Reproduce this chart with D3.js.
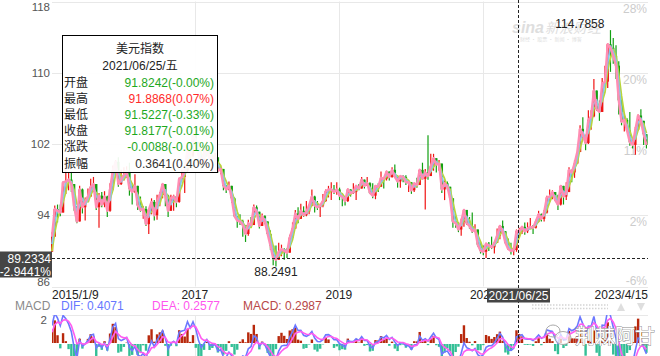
<!DOCTYPE html>
<html><head><meta charset="utf-8">
<script src="https://cdn.jsdelivr.net/npm/d3@7/dist/d3.min.js"></script>
<style>
html,body{margin:0;padding:0;background:#fff;}
svg{display:block;font-family:"Liberation Sans",Arial,"Noto Sans CJK SC",sans-serif;}
</style></head><body>
<svg id="c" width="660" height="356"></svg>
<script>
// ---------------- data ----------------
const startDate = "2015-01-09";
const endDate = "2023-04-15";
const stepDays = 14; // one candle per two weeks
const warmupCloses = [87.3, 87.6, 88.4, 88.4, 89.9];
const closes = [
91.6,94.7,94.5,94.3,97.7,97.8,98.0,97.5,95.0,93.3,96.9,94.9,95.5,96.1,97.2,97.5,94.9,96.2,95.2,96.1,94.5,96.9,99.0,100.0,97.5,98.0,
98.5,99.0,97.0,96.6,97.3,95.1,94.6,94.7,93.0,94.6,95.5,94.0,95.5,96.3,97.5,96.2,94.5,95.9,96.1,95.5,98.1,98.3,99.0,101.4,100.7,103.0,
102.2,100.7,99.9,100.9,101.5,100.3,100.4,100.5,99.0,99.2,97.3,96.9,97.3,95.9,93.9,93.4,93.3,92.9,91.9,93.1,92.9,94.9,94.4,92.8,93.9,93.3,
91.9,90.6,89.2,89.0,89.9,90.2,90.0,89.8,91.5,92.5,94.2,93.6,94.5,94.0,94.4,95.1,96.1,95.1,94.9,95.1,95.6,96.7,96.9,96.9,96.6,96.9,
96.2,96.1,95.6,96.9,96.5,96.6,97.3,97.0,98.0,97.3,97.6,96.5,96.2,97.3,97.2,98.2,98.1,98.9,98.3,99.1,98.3,97.8,98.4,98.3,97.7,97.7,
96.8,97.6,97.4,99.1,98.1,98.8,98.4,99.5,100.4,99.7,99.8,96.9,97.6,97.2,95.9,93.3,93.1,92.4,93.3,94.6,93.1,92.8,92.2,92.4,90.7,90.0,
89.9,90.8,90.6,90.4,90.9,91.7,92.8,92.2,90.9,90.2,90.0,90.1,92.2,92.2,92.7,92.2,92.5,92.7,92.6,93.3,94.1,93.6,94.3,96.0,96.1,96.6,
95.7,95.2,97.3,96.1,96.6,99.1,98.8,99.8,101.1,103.7,103.0,102.1,104.7,105.1,108.0,105.9,105.6,108.8,109.0,113.2,112.8,111.9,110.8,106.9,104.5,104.7,
103.5,102.2,101.9,103.6,105.2,104.6,103.1,101.9];
const highs = [
92.1,95.1,95.2,95.2,97.8,100.4,98.8,98.9,97.5,95.0,97.3,97.0,96.0,97.0,98.1,98.3,97.2,96.5,96.6,96.7,96.2,97.6,99.6,100.2,100.5,99.1,
99.4,99.5,99.9,97.5,98.6,97.2,96.1,95.0,95.0,94.8,95.9,95.7,96.3,96.6,97.6,97.5,96.3,96.3,96.3,96.0,98.2,99.1,99.2,101.9,101.6,103.3,
103.8,102.2,100.7,101.7,102.3,101.8,100.8,101.0,100.4,99.6,99.2,97.4,97.8,97.3,96.0,93.9,94.1,93.5,92.9,93.5,93.8,95.2,95.1,94.4,94.2,94.0,
93.0,92.3,90.5,90.6,90.9,90.7,90.3,90.3,91.8,93.2,94.6,94.9,95.3,95.0,95.6,95.2,96.9,96.2,95.6,95.3,96.4,96.9,97.3,97.7,97.4,97.7,
97.1,96.4,96.1,97.0,96.9,97.6,97.4,97.5,98.3,98.0,98.3,97.7,97.6,97.4,97.6,98.9,98.3,99.0,98.9,99.4,99.7,98.2,98.5,98.5,98.5,97.9,
97.3,97.6,98.2,99.2,99.9,99.2,102.99,100.9,100.9,100.4,100.2,99.8,97.9,97.8,97.2,95.9,93.9,93.2,93.6,94.7,94.6,93.8,94.3,93.0,92.4,91.0,
90.6,90.9,91.0,91.6,91.0,92.5,92.9,93.4,92.2,91.4,90.9,90.4,92.4,92.6,92.8,93.2,93.2,93.7,92.9,93.5,94.5,94.2,94.6,96.2,96.9,96.8,
96.6,96.3,97.4,96.5,97.7,99.4,99.0,100.2,101.2,104.1,105.0,102.7,105.8,105.8,109.3,107.4,106.9,109.4,110.8,113.3,114.7858,113.9,113.1,111.3,107.0,105.5,
104.9,105.6,102.6,103.9,105.3,105.9,104.4,103.1];
const lows = [
90.2,91.6,93.2,93.9,94.5,96.4,96.8,96.6,94.5,93.1,93.5,94.2,93.4,95.5,96.3,96.6,94.6,92.6,94.9,94.9,93.8,94.4,96.9,98.9,97.2,97.4,
97.9,98.2,96.2,95.2,96.5,94.6,94.4,93.6,92.8,91.9,94.1,93.4,93.5,95.0,95.9,95.0,93.8,94.5,94.5,94.9,95.4,97.9,96.5,98.8,100.2,100.5,
101.9,99.9,99.2,99.9,100.6,100.0,98.9,100.0,98.8,98.6,96.8,96.5,96.8,95.4,93.8,92.6,92.9,91.6,91.0,91.7,92.6,92.9,94.1,92.5,92.9,93.0,
91.7,90.1,88.4,88.2491,89.0,89.4,89.0,89.2,89.8,91.5,92.5,93.1,93.6,93.8,93.9,94.1,95.0,94.3,94.6,93.8,94.9,95.5,96.0,95.7,96.4,96.3,
95.7,95.0,95.1,95.5,96.1,96.4,95.7,96.8,97.0,97.0,97.5,96.4,95.9,95.8,96.6,97.2,97.0,97.9,97.9,98.2,98.2,97.1,97.1,97.7,97.4,96.6,
96.4,96.6,97.1,97.4,98.0,94.65,98.0,99.3,99.0,98.8,99.0,96.5,95.7,96.9,95.7,92.6,92.6,92.1,91.7,92.7,92.9,92.5,92.0,92.1,90.5,89.7,
89.5,89.2,90.0,90.2,89.7,90.9,91.3,92.0,90.8,90.1,89.6,89.5,89.9,91.5,91.9,91.8,92.0,92.6,91.9,92.5,93.2,93.3,93.3,94.2,95.5,95.8,
95.6,94.6,95.1,95.2,95.7,96.6,97.7,98.2,99.8,101.5,102.6,101.3,102.0,103.6,105.0,105.7,104.6,106.6,108.5,108.3,110.1,111.0,109.3,105.3,104.1,103.4,
103.4,101.8,101.5,100.8,103.5,104.4,101.9,101.5];

const priceTicks = [118, 110, 102, 94, 86];
const pctBase = 91.9402;
const xTickDates = ["2015-01-09", "2017-01-01", "2019-01-01", "2021-01-01", "2023-04-15"];
const xTickLabels = ["2015/1/9", "2017", "2019", "2021", "2023/4/15"];
const gridDates = ["2017-01-01", "2019-01-01", "2021-01-01"];
const maWindows = [3, 2, 1];
const maColors = ["#b9d63a", "#86c7e8", "#ff8db4"];
const macdPeriods = [2, 5, 4]; // fast, slow, signal (in candles)
const macdTicks = [2];

const crossDate = "2021-06-25";
const crossDateLabel = "2021/06/25";
const crossPrice = 89.2334;

const tipTitle = "美元指数";
const tipDate = "2021/06/25/五";
const tipLabels = ["开盘", "最高", "最低", "收盘", "涨跌", "振幅"];
const tipValues = ["91.8242(-0.00%)", "91.8868(0.07%)", "91.5227(-0.33%)", "91.8177(-0.01%)", "-0.0088(-0.01%)", "0.3641(0.40%)"];
const tipSigns = [-1, 1, -1, -1, -1, 0];

const legendNames = ["MACD", "DIF: 0.4071", "DEA: 0.2577", "MACD: 0.2987"];

// ---------------- layout / style ----------------
const W = 660, H = 356;
const L = 52, R = 648, T = 1.5, B = 286.5;
const MT = 315, M0 = 343;
const UP = "#f01414", DOWN = "#12a012";

const svg = d3.select("#c");
const parse = d3.utcParse("%Y-%m-%d");
const t0 = parse(startDate);
const dates = closes.map((_, i) => d3.utcDay.offset(t0, i * stepDays));
const opens = closes.map((c, i) => i === 0 ? warmupCloses[warmupCloses.length - 1] : closes[i - 1]);

const x = d3.scaleUtc().domain([t0, parse(endDate)]).range([L, R]);
const y = d3.scaleLinear().domain([86, 118]).range([B, T]);
const ym = d3.scaleLinear().domain([0, 2]).range([M0, MT]);

const defs = svg.append("defs");
defs.append("clipPath").attr("id", "cpMain").append("rect").attr("x", L - 1).attr("y", 0).attr("width", R - L + 2).attr("height", B + 1);
defs.append("clipPath").attr("id", "cpMacd").append("rect").attr("x", L).attr("y", MT).attr("width", R - L).attr("height", H - MT);

const grid = svg.append("g").attr("stroke", "#e8e8e8").attr("stroke-width", 1);
priceTicks.forEach(v => grid.append("line").attr("x1", L).attr("x2", R).attr("y1", Math.round(y(v)) + 0.5).attr("y2", Math.round(y(v)) + 0.5));
gridDates.forEach(d => {
  const gx = Math.round(x(parse(d))) + 0.5;
  grid.append("line").attr("x1", gx).attr("x2", gx).attr("y1", T).attr("y2", B);
  grid.append("line").attr("x1", gx).attr("x2", gx).attr("y1", MT).attr("y2", H);
});
grid.append("line").attr("x1", L).attr("x2", R).attr("y1", MT + 0.5).attr("y2", MT + 0.5);

// watermark sina
const wm = svg.append("g").attr("fill", "#dedede");
wm.append("text").attr("x", 512).attr("y", 33).attr("font-size", 16).attr("font-style", "italic").attr("font-weight", "bold").text("sina");
wm.append("text").attr("x", 545).attr("y", 33).attr("font-size", 14).attr("font-style", "italic").attr("font-family", "Noto Sans CJK SC").text("新浪财经");
wm.append("text").attr("x", 520).attr("y", 41).attr("font-size", 5).attr("font-family", "Noto Sans CJK SC").text("财经 · 股票 · 新闻 · 博客");

// right percentage labels
svg.append("g").selectAll("text").data(priceTicks).join("text")
  .attr("x", R - 1).attr("y", v => Math.min(y(v) + 7, 281)).attr("dy", "0.35em")
  .attr("text-anchor", "end").attr("font-size", 12).attr("fill", "#cccccc")
  .text(v => Math.round((v / pctBase - 1) * 100) + "%");

// left price labels
svg.append("g").selectAll("text").data(priceTicks).join("text")
  .attr("x", 50).attr("y", v => Math.max(7, Math.min(y(v), 282))).attr("dy", "0.35em")
  .attr("text-anchor", "end").attr("font-size", 11.5).attr("fill", "#555")
  .text(v => v);

// candles
const cg = svg.append("g").attr("clip-path", "url(#cpMain)");
const idx = d3.range(closes.length);
cg.selectAll("line.w").data(idx).join("line")
  .attr("x1", i => x(dates[i])).attr("x2", i => x(dates[i]))
  .attr("y1", i => y(Math.max(highs[i], opens[i], closes[i])))
  .attr("y2", i => y(Math.min(lows[i], opens[i], closes[i])))
  .attr("stroke", i => closes[i] >= opens[i] ? UP : DOWN).attr("stroke-width", 1.2);
cg.selectAll("rect.b").data(idx).join("rect")
  .attr("x", i => x(dates[i]) - 1.2).attr("width", 2.4)
  .attr("y", i => y(Math.max(opens[i], closes[i])))
  .attr("height", i => Math.max(1, Math.abs(y(opens[i]) - y(closes[i]))))
  .attr("fill", i => closes[i] >= opens[i] ? UP : DOWN);

// moving averages
const allC = warmupCloses.concat(closes);
const off = warmupCloses.length;
maWindows.forEach((w, k) => {
  const ma = closes.map((_, i) => d3.mean(allC.slice(i + off - w + 1, i + off + 1)));
  cg.append("path").datum(idx)
    .attr("fill", "none").attr("stroke", maColors[k]).attr("stroke-width", k === 2 ? 2.4 : 1.8)
    .attr("stroke-linejoin", "round")
    .attr("d", d3.line().x(i => x(dates[i])).y(i => y(ma[i])));
});

// high/low labels
const iMax = d3.maxIndex(highs), iMin = d3.minIndex(lows);
svg.append("text").attr("x", x(dates[iMax]) - 6).attr("y", y(highs[iMax]) - 2)
  .attr("text-anchor", "end").attr("font-size", 12).attr("fill", "#222").text(highs[iMax].toFixed(4));
svg.append("text").attr("x", x(dates[iMin])).attr("y", y(lows[iMin]) + 10)
  .attr("text-anchor", "middle").attr("font-size", 12).attr("fill", "#222").text(lows[iMin].toFixed(4));

// MACD
const ema = (arr, n) => { const a = 2 / (n + 1); let e = arr[0]; return arr.map(v => (e = a * v + (1 - a) * e)); };
const ef = ema(allC, macdPeriods[0]), es = ema(allC, macdPeriods[1]);
const difAll = ef.map((v, i) => v - es[i]);
const deaAll = ema(difAll, macdPeriods[2]);
const dif = difAll.slice(off), dea = deaAll.slice(off);
const hist = dif.map((v, i) => 2 * (v - dea[i]));
const mg = svg.append("g").attr("clip-path", "url(#cpMacd)");
mg.selectAll("rect").data(idx).join("rect")
  .attr("x", i => x(dates[i]) - 1.2).attr("width", 2.4)
  .attr("y", i => hist[i] >= 0 ? ym(hist[i]) : M0 + 1)
  .attr("height", i => Math.abs(ym(hist[i]) - M0))
  .attr("fill", i => hist[i] >= 0 ? "#b8280c" : "#33bf96");
mg.append("path").datum(idx).attr("fill", "none").attr("stroke", "#6c78ff").attr("stroke-width", 1.6)
  .attr("d", d3.line().x(i => x(dates[i])).y(i => ym(dif[i])));
mg.append("path").datum(idx).attr("fill", "none").attr("stroke", "#ff5cf0").attr("stroke-width", 1.6)
  .attr("d", d3.line().x(i => x(dates[i])).y(i => ym(dea[i])));
svg.append("g").selectAll("text").data(macdTicks).join("text")
  .attr("x", 47).attr("y", v => ym(v) + 5).attr("dy", "0.35em").attr("text-anchor", "end")
  .attr("font-size", 11.5).attr("fill", "#555").text(v => v);

// MACD legend
const legColors = ["#8a8a8a", "#6677ff", "#ff55ee", "#b84848"];
const legX = [15, 61, 152, 243];
svg.append("g").selectAll("text").data(legendNames).join("text")
  .attr("x", (d, i) => legX[i]).attr("y", 310).attr("font-size", 12)
  .attr("fill", (d, i) => legColors[i]).text(d => d);

// x axis labels
svg.append("g").selectAll("text").data(xTickLabels).join("text")
  .attr("x", (d, i) => x(parse(xTickDates[i])))
  .attr("y", 299).attr("font-size", 12).attr("fill", "#222")
  .attr("text-anchor", (d, i) => i === 0 ? "start" : (i === xTickLabels.length - 1 ? "end" : "middle"))
  .text(d => d);

// scroll indicator
const sc = svg.append("g").attr("stroke", "#d4d4d4").attr("stroke-width", 1.5).attr("stroke-dasharray", "1.5,1.5");
sc.append("line").attr("x1", 532).attr("x2", 608).attr("y1", 305).attr("y2", 305);
sc.append("line").attr("x1", 532).attr("x2", 608).attr("y1", 308.5).attr("y2", 308.5);
svg.append("path").attr("d", "M617,311L625,311L621,303Z").attr("fill", "#dedede");
svg.append("path").attr("d", "M637,303L645,303L641,311Z").attr("fill", "#dedede");

// watermark bottom
const wx = svg.append("g");
wx.append("ellipse").attr("cx", 553).attr("cy", 331).attr("rx", 7).attr("ry", 6).attr("fill", "none").attr("stroke", "#aaa").attr("stroke-width", 1);
wx.append("ellipse").attr("cx", 563).attr("cy", 338).attr("rx", 8).attr("ry", 6.5).attr("fill", "#fff").attr("fill-opacity", 0.7).attr("stroke", "#aaa").attr("stroke-width", 1);
wx.append("text").attr("x", 575).attr("y", 344).attr("font-size", 20).attr("font-family", "Noto Sans CJK SC")
  .attr("fill", "#fff").attr("stroke", "#8a8a8a").attr("stroke-width", 0.9).attr("paint-order", "stroke")
  .text("荆棘阿甘");

// crosshair
const cx = Math.round(x(parse(crossDate))) + 0.5;
const cy = Math.round(y(crossPrice)) + 0.5;
const ch = svg.append("g").attr("stroke", "#222").attr("stroke-width", 1).attr("stroke-dasharray", "3,2");
ch.append("line").attr("x1", cx).attr("x2", cx).attr("y1", 0).attr("y2", H);
ch.append("line").attr("x1", L).attr("x2", R).attr("y1", cy).attr("y2", cy);

// crosshair date label
svg.append("rect").attr("x", cx - 31.5).attr("y", 288.5).attr("width", 63).attr("height", 14).attr("fill", "#454545");
svg.append("text").attr("x", cx).attr("y", 300).attr("text-anchor", "middle").attr("font-size", 12).attr("fill", "#fff").text(crossDateLabel);

// crosshair price label
svg.append("rect").attr("x", 0).attr("y", cy - 7).attr("width", 52).attr("height", 26).attr("fill", "#454545");
svg.append("text").attr("x", 51).attr("y", cy + 4.5).attr("text-anchor", "end").attr("font-size", 12).attr("fill", "#fff").text(crossPrice.toFixed(4));
svg.append("text").attr("x", 51).attr("y", cy + 17).attr("text-anchor", "end").attr("font-size", 12).attr("fill", "#fff")
  .text(((crossPrice / pctBase - 1) * 100).toFixed(4) + "%");

// tooltip
const tg = svg.append("g");
tg.append("rect").attr("x", 62.5).attr("y", 35.5).attr("width", 155).attr("height", 137)
  .attr("fill", "#fff").attr("fill-opacity", 0.92).attr("stroke", "#000").attr("stroke-width", 1);
tg.append("text").attr("x", 140).attr("y", 52.5).attr("text-anchor", "middle").attr("font-size", 12).attr("fill", "#222").text(tipTitle);
tg.append("text").attr("x", 140).attr("y", 70).attr("text-anchor", "middle").attr("font-size", 12).attr("fill", "#222").text(tipDate);
tipLabels.forEach((lab, i) => {
  const by = 86.5 + i * 16.2;
  tg.append("text").attr("x", 64).attr("y", by).attr("font-size", 12).attr("fill", "#222").text(lab);
  tg.append("text").attr("x", 214).attr("y", by).attr("text-anchor", "end").attr("font-size", 12)
    .attr("fill", tipSigns[i] > 0 ? "#ff2a2a" : (tipSigns[i] < 0 ? "#1ea81e" : "#333")).text(tipValues[i]);
});
</script>
</body></html>
